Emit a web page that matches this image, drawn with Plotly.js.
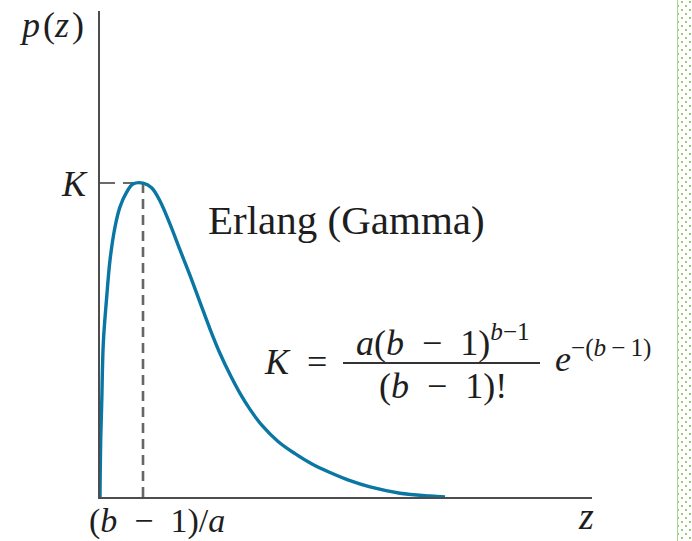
<!DOCTYPE html>
<html>
<head>
<meta charset="utf-8">
<script src="https://cdn.plot.ly/plotly-3.0.1.min.js"></script>
<style>
  html, body { margin: 0; padding: 0; background: #fff; }
  #chart { width: 692px; height: 541px; position: absolute; left: 0; top: 0; }
  #deco {
    position: absolute; left: 677px; top: 0; width: 15px; height: 541px;
    border-left: 1px solid #a9d38e;
    background-image: url("data:image/svg+xml;utf8,<svg xmlns='http://www.w3.org/2000/svg' width='8' height='8'><rect x='0' y='1' width='2' height='2' fill='%2399cc77'/><rect x='4' y='5' width='2' height='2' fill='%2399cc77'/></svg>");
    background-position: 3px 0;
  }
</style>
</head>
<body>
<div id="chart"></div>
<div id="deco"></div>
<script>
// Erlang (Gamma) density (z in units of the mode, p in units of K)
const zVals = [0, 0.005, 0.016, 0.04, 0.077, 0.156, 0.233, 0.349, 0.465, 0.62, 0.767, 1.0,
               1.2, 1.395, 1.628, 1.86, 2.093, 2.326, 2.558, 2.791, 3.023, 3.256, 3.488,
               3.767, 4.140, 4.535, 4.930, 5.349, 5.814, 6.279, 6.977, 7.674, 8.023];
const pVals = [0, 0.08, 0.18, 0.30, 0.49, 0.637, 0.755, 0.86, 0.924, 0.971, 0.997, 1.0,
               0.985, 0.943, 0.869, 0.787, 0.706, 0.620, 0.535, 0.457, 0.390, 0.330, 0.279,
               0.228, 0.177, 0.138, 0.105, 0.078, 0.052, 0.032, 0.012, 0.003, 0];
const xRange = [0, 11.44];
const yRange = [0, 1.548];

const axisLabels = {
  y: '<i>p</i>\u200a(<i>z</i>\u200a)',
  x: '<i>z</i>',
  peakY: '<i>K</i>',
  peakX: '(<i>b</i>\u2002−\u20021)/<i>a</i>'
};
const curveName = 'Erlang (Gamma)';
const formula = {
  lhs: '<i>K</i>\u2002=',
  num: '<i>a</i>(<i>b</i>\u2002−\u20021)<sup><i>b</i>−1</sup>',
  den: '(<i>b</i>\u2002−\u20021)!',
  exp: '<i>e</i><sup>−(<i>b</i>\u2009−\u20091)</sup>'
};

let iPeak = 0;
pVals.forEach((v, i) => { if (v > pVals[iPeak]) iPeak = i; });
const zMode = zVals[iPeak], K = pVals[iPeak];

// plot area geometry (pixels)
const W = 692, H = 541, L = 100, R = 592, T = 11, B = 497;
const px = x => (x - L) / (R - L);
const py = y => (B - y) / (B - T);

const serif = '"Liberation Serif", "DejaVu Serif", serif';
const ink = '#1e1e1e';

function ann(text, x, y, xa, size) {
  return {
    text: text, xref: 'paper', yref: 'paper', x: px(x), y: py(y),
    xanchor: xa, yanchor: 'middle', showarrow: false,
    font: { family: serif, size: size, color: ink }
  };
}

const traces = [
  { x: [zMode, zMode], y: [0, K], mode: 'lines', hoverinfo: 'skip',
    line: { color: '#666666', width: 2.6, dash: '10px,6px' } },
  { x: [0, zMode], y: [K, K], mode: 'lines', hoverinfo: 'skip',
    line: { color: '#3a3a3a', width: 1.6, dash: '15px,8px' } },
  { x: zVals, y: pVals, mode: 'lines', name: curveName,
    line: { color: '#0a76a3', width: 3.4, shape: 'spline', smoothing: 1 } }
];

const layout = {
  width: W, height: H,
  margin: { l: L, r: W - R, t: T, b: H - B, pad: 0 },
  paper_bgcolor: '#ffffff', plot_bgcolor: '#ffffff',
  showlegend: false,
  xaxis: { range: xRange, showline: true, linecolor: '#4d4d4d', linewidth: 2.2,
           showgrid: false, zeroline: false, showticklabels: false, ticks: '' },
  yaxis: { range: yRange, showline: true, linecolor: '#4d4d4d', linewidth: 2.2,
           showgrid: false, zeroline: false, showticklabels: false, ticks: '' },
  shapes: [
    { type: 'line', xref: 'paper', yref: 'paper', x0: px(343), x1: px(540), y0: py(363), y1: py(363),
      line: { color: '#333', width: 2 } }
  ],
  annotations: [
    ann(axisLabels.y, 17, 25, 'left', 36),
    ann(axisLabels.peakY, 90, 184, 'right', 36),
    ann(axisLabels.peakX, 87, 521, 'left', 34),
    ann(axisLabels.x, 576, 516, 'left', 38),
    ann(curveName, 206, 220, 'left', 41),
    ann(formula.lhs, 262, 362, 'left', 36),
    ann(formula.num, 443, 340, 'center', 36),
    ann(formula.den, 443, 386, 'center', 36),
    ann(formula.exp, 553, 356, 'left', 36)
  ]
};

Plotly.newPlot('chart', traces, layout, { displayModeBar: false, staticPlot: true });
</script>
</body>
</html>
